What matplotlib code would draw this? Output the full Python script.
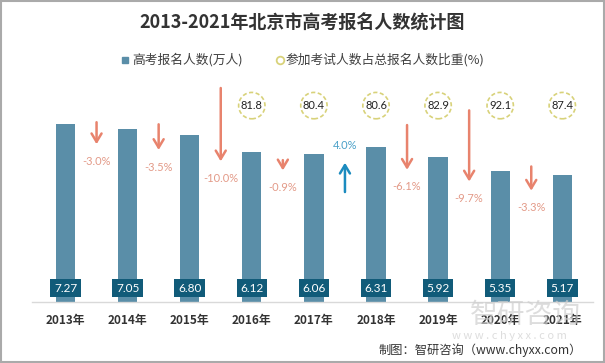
import matplotlib
matplotlib.use("Agg")
import matplotlib.pyplot as plt
from matplotlib.patches import Rectangle
from matplotlib.lines import Line2D
import numpy as np

plt.rcParams['font.family'] = ['Noto Sans CJK SC', 'DejaVu Sans']

years = ['2013年', '2014年', '2015年', '2016年', '2017年', '2018年', '2019年', '2020年', '2021年']
applicants = [7.27, 7.05, 6.80, 6.12, 6.06, 6.31, 5.92, 5.35, 5.17]          # 万人
growth = [None, -3.0, -3.5, -10.0, -0.9, 4.0, -6.1, -9.7, -3.3]              # %
share_years_idx = [3, 4, 5, 6, 7, 8]
share = [81.8, 80.4, 80.6, 82.9, 92.1, 87.4]                                  # %

BAR = '#5a8ea8'
BOX = '#115b79'
DOWN = '#e8836d'
DOWN_TXT = '#e39a88'
UP = '#1b8bbf'
UP_TXT = '#4aa0c8'

W, H = 605, 363
fig = plt.figure(figsize=(W / 100, H / 100), dpi=100)
# axes: left 32px, right 593px; baseline y=301.7px, ylim top 10 at ~57px
x0_px, x1_px = 32, 593
ax_left, ax_right = x0_px / W, x1_px / W
ax_bottom = (H - 301.7) / H
ax_top = (H - 57.2) / H
ax = fig.add_axes([ax_left, ax_bottom, ax_right - ax_left, ax_top - ax_bottom])

x = np.arange(len(years))
ax.bar(x, applicants, width=0.31, color=BAR, zorder=2)
ax.set_xlim(-(65.5 - x0_px) / 62.1, (x1_px - 65.5) / 62.1)
ax.set_ylim(0, 10)

# value boxes
for xi, v in zip(x, applicants):
    ax.text(xi, 0.56, f'{v:.2f}', ha='center', va='center', color='white',
            fontsize=8.5, family=['Lato', 'DejaVu Sans'], zorder=4,
            bbox=dict(boxstyle='square,pad=0.3', fc=BOX, ec='none'))

# share circles
sx = [x[i] for i in share_years_idx]
ax.scatter(sx, [8.02] * len(sx), s=360, facecolor='white', edgecolor='#d8d27a',
           linewidths=1.2, linestyle=(0, (2.5, 1.5)), zorder=3, clip_on=False)
for xi, v in zip(sx, share):
    ax.text(xi, 8.02, f'{v:.1f}', ha='center', va='center', fontsize=8,
            color='#222222', family=['Lato', 'DejaVu Sans'], zorder=4)

# growth arrows
for i in range(1, len(applicants)):
    g = growth[i]
    mid = (applicants[i - 1] + applicants[i]) / 2
    xm = i - 0.5
    if g < 0:
        tip = mid - 0.72
        tail = tip + max(0.3 * abs(g), 0.42)
        ax.annotate('', xy=(xm, tip), xytext=(xm, tail),
                    arrowprops=dict(arrowstyle='->,head_length=0.6,head_width=0.36',
                                    lw=1.8, color=DOWN, shrinkA=0, shrinkB=0))
        ax.text(xm, tip - 0.7, f'{g:.1f}%', ha='center', va='center', fontsize=8,
                color=DOWN_TXT, family=['Lato', 'DejaVu Sans'])
    else:
        tip = mid - 0.5
        tail = tip - 0.3 * abs(g)
        ax.annotate('', xy=(xm, tip), xytext=(xm, tail),
                    arrowprops=dict(arrowstyle='->,head_length=0.6,head_width=0.36',
                                    lw=1.8, color=UP, shrinkA=0, shrinkB=0))
        ax.text(xm, mid + 0.19, f'{g:.1f}%', ha='center', va='center', fontsize=8,
                color=UP_TXT, family=['Lato', 'DejaVu Sans'])

# axes styling
for s in ['top', 'right', 'left']:
    ax.spines[s].set_visible(False)
ax.spines['bottom'].set_color('#d9d9d9')
ax.spines['bottom'].set_linewidth(1)
ax.set_yticks([])
ax.set_xticks(x)
ax.set_xticklabels(years, fontsize=8.5, fontweight='bold', color='#333333')
ax.tick_params(axis='x', length=0, pad=9)

# title
fig.text(0.5, 1 - 23 / H, '2013-2021年北京市高考报名人数统计图', ha='center', va='center',
         fontsize=13, fontweight='bold', color='#333333')

# legend (manual)
ly = 1 - 60 / H
fig.add_artist(Line2D([124.5 / W], [ly], transform=fig.transFigure, marker='s',
                      markersize=5, color=BAR, linestyle='none'))
fig.text(132 / W, ly, '高考报名人数(万人)', ha='left', va='center', fontsize=9.2, color='#404040')
fig.add_artist(Line2D([280 / W], [ly], transform=fig.transFigure, marker='o',
                      markersize=5.5, markerfacecolor='white', markeredgecolor='#d8d27a',
                      markeredgewidth=1.3, linestyle='none'))
fig.text(286 / W, ly, '参加考试人数占总报名人数比重(%)', ha='left', va='center',
         fontsize=9.2, color='#404040')

# watermark
fig.text(525 / W, 1 - 315 / H, '智研咨询', ha='center', va='center', fontsize=20,
         color='#cfcfcf', alpha=0.7, zorder=0)
fig.text(509 / W, 1 - 336 / H, 'w w w . c h y x x . c o m', ha='center', va='center',
         fontsize=8, color='#cfcfcf', alpha=0.7, zorder=0)

# source
fig.text(582 / W, 1 - 350 / H, '制图：智研咨询（www.chyxx.com）', ha='right', va='center',
         fontsize=8.8, color='#333333')

# border
fig.add_artist(Rectangle((0.001, 0.002), 0.997, 0.996, transform=fig.transFigure,
                         fill=False, ec='#aaaaaa', lw=1.5))

fig.savefig('out.png', dpi=100)
